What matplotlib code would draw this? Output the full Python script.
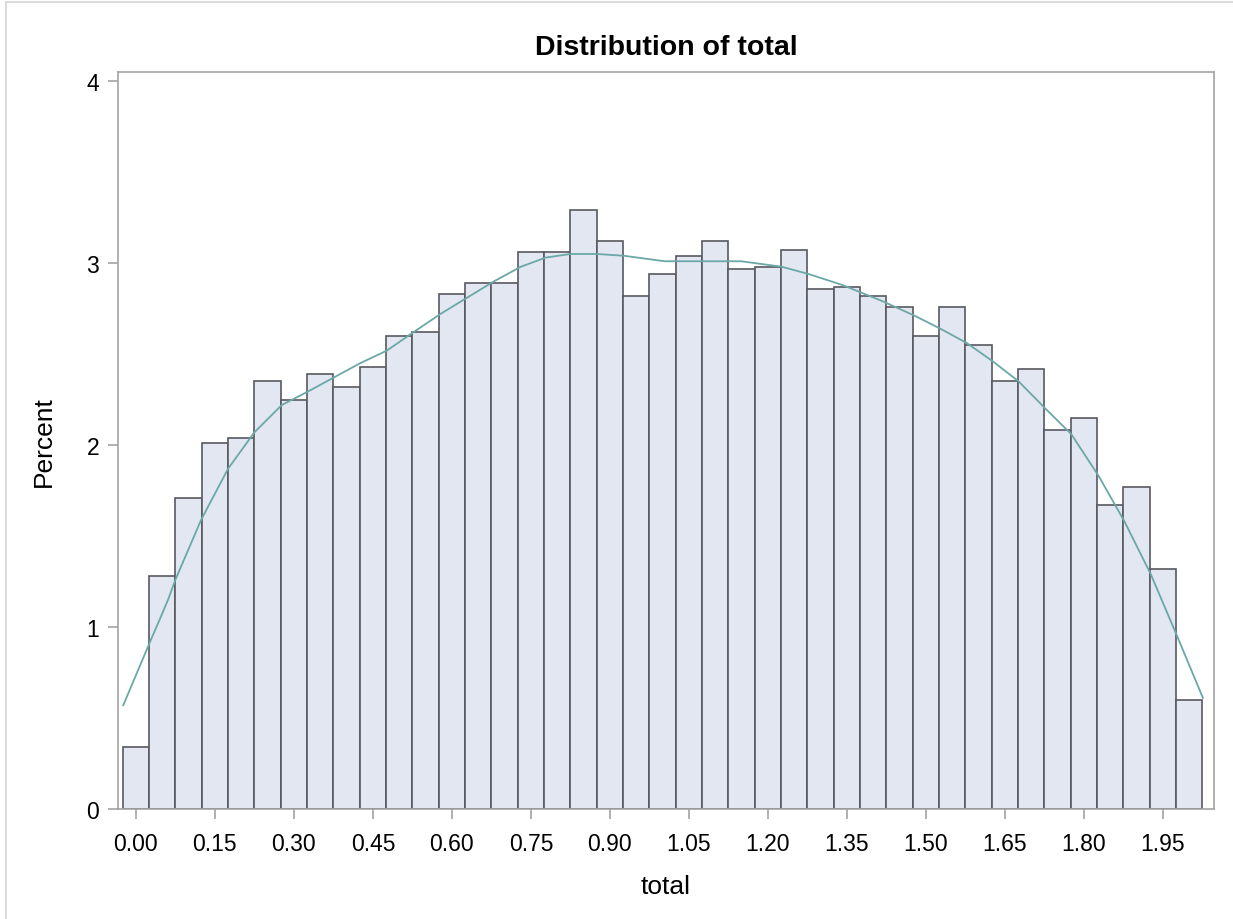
import matplotlib
matplotlib.use('Agg')
import matplotlib.pyplot as plt
from matplotlib.patches import Rectangle
import numpy as np

plt.rcParams['font.family'] = ['Liberation Sans', 'DejaVu Sans']

# bin midpoints and percent per bin
mids = [0.00, 0.05, 0.10, 0.15, 0.20, 0.25, 0.30, 0.35, 0.40, 0.45,
        0.50, 0.55, 0.60, 0.65, 0.70, 0.75, 0.80, 0.85, 0.90, 0.95,
        1.00, 1.05, 1.10, 1.15, 1.20, 1.25, 1.30, 1.35, 1.40, 1.45,
        1.50, 1.55, 1.60, 1.65, 1.70, 1.75, 1.80, 1.85, 1.90, 1.95, 2.00]
percent = [0.34, 1.28, 1.71, 2.01, 2.04, 2.35, 2.25, 2.39, 2.32, 2.43,
           2.60, 2.62, 2.83, 2.89, 2.89, 3.06, 3.06, 3.29, 3.12, 2.82,
           2.94, 3.04, 3.12, 2.97, 2.98, 3.07, 2.86, 2.87, 2.82, 2.76,
           2.60, 2.76, 2.55, 2.35, 2.42, 2.08, 2.15, 1.67, 1.77, 1.32, 0.60]

# kernel density curve
kde_x = [-0.024, 0.027, 0.045, 0.061, 0.075, 0.124, 0.175, 0.225, 0.277, 0.324,
         0.375, 0.426, 0.477, 0.527, 0.578, 0.629, 0.680, 0.731, 0.778, 0.825,
         0.876, 0.927, 1.004, 1.073, 1.149, 1.226, 1.277, 1.341, 1.418, 1.479,
         1.527, 1.578, 1.627, 1.676, 1.727, 1.776, 1.828, 1.877, 1.927, 1.977, 2.026]
kde_y = [0.57, 0.92, 1.04, 1.15, 1.26, 1.59, 1.87, 2.07, 2.22, 2.29,
         2.37, 2.45, 2.52, 2.62, 2.72, 2.81, 2.90, 2.98, 3.03, 3.05,
         3.05, 3.04, 3.01, 3.01, 3.01, 2.98, 2.94, 2.88, 2.79, 2.71,
         2.64, 2.56, 2.46, 2.35, 2.20, 2.06, 1.83, 1.58, 1.29, 0.95, 0.61]

xticks = [0.00, 0.15, 0.30, 0.45, 0.60, 0.75, 0.90, 1.05, 1.20, 1.35, 1.50, 1.65, 1.80, 1.95]
yticks = [0, 1, 2, 3, 4]

fig = plt.figure(figsize=(12.33, 9.2), dpi=100)
ax = fig.add_axes([118 / 1233, 1 - 810 / 920, (1214 - 118) / 1233, (810 - 73) / 920])

ax.bar(mids, percent, width=0.05, color='#E3E7F1', edgecolor='#585960',
       linewidth=1.2, zorder=2)
ax.plot(kde_x, kde_y, color='#6AA8A8', linewidth=1.3, zorder=3)

ax.set_xlim(-0.034, 2.047)
ax.set_ylim(0, 4.05)
ax.set_xticks(xticks)
ax.set_xticklabels(['%.2f' % t for t in xticks])
ax.set_yticks(yticks)

gray = '#A3A3A3'
for s in ax.spines.values():
    s.set_color(gray)
    s.set_linewidth(1.2)
ax.tick_params(axis='both', colors=gray, length=7, width=1.2, labelsize=16.5,
               labelcolor='black')
ax.tick_params(axis='x', pad=9.5)
ax.tick_params(axis='y', pad=6.5)

ax.set_title('Distribution of total', fontsize=20.5, fontweight='bold', pad=13)
ax.set_xlabel('total', fontsize=19, labelpad=14)
ax.set_ylabel('Percent', fontsize=19, labelpad=22)

# light frame around the whole graph
fig.patches.append(Rectangle((6 / 1233, -0.05), 1.2, 1 - 3 / 920 + 0.05,
                             transform=fig.transFigure, fill=False,
                             edgecolor='#D4D4D4', linewidth=1.2))

fig.savefig('out.png', dpi=100)
